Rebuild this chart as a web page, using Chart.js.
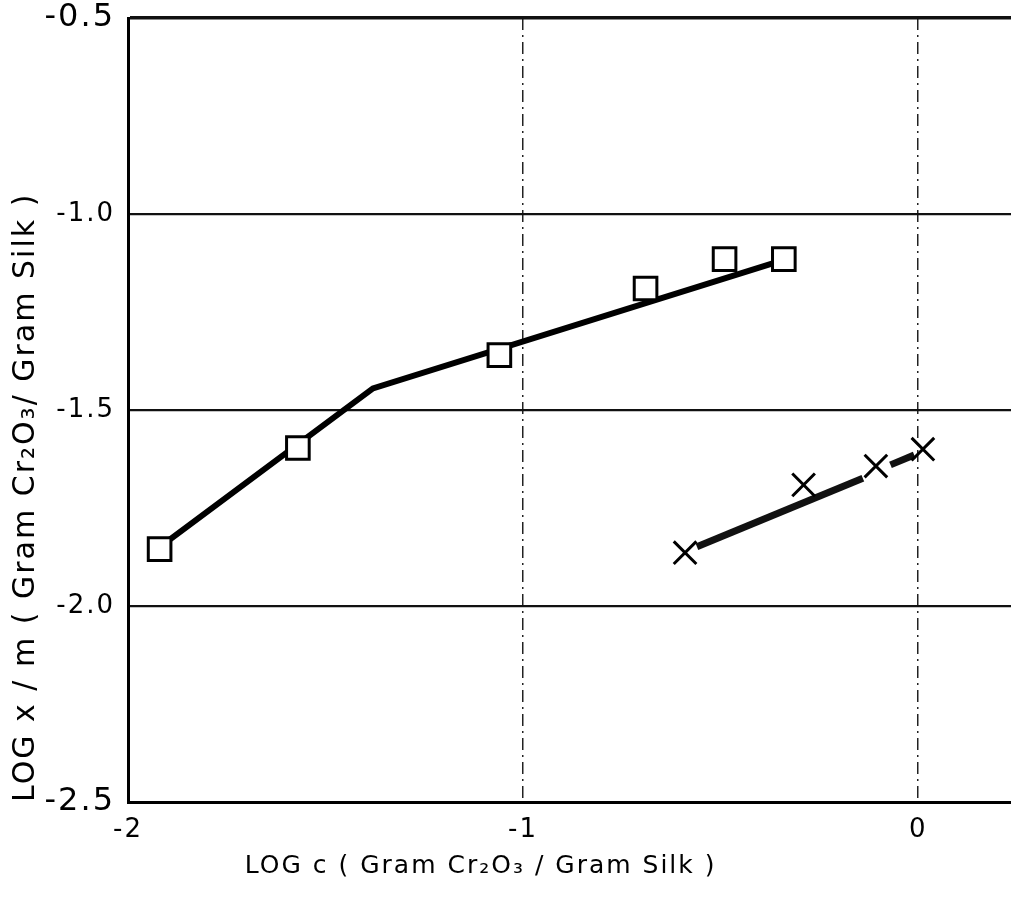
<!DOCTYPE html>
<html>
<head>
<meta charset="utf-8">
<script src="https://cdn.jsdelivr.net/npm/chart.js@4/dist/chart.umd.min.js"></script>
<style>
  html, body { margin: 0; padding: 0; background: #fff; }
  canvas { display: block; }
</style>
</head>
<body>
<canvas id="c" width="1011" height="898"></canvas>
<script>
// ---- data ----
const squareX = [-1.92, -1.57, -1.06, -0.69, -0.49, -0.34];
const squareY = [-1.855, -1.597, -1.360, -1.190, -1.115, -1.115];
const squareFitX = [-1.92, -1.38, -0.35];
const squareFitY = [-1.850, -1.445, -1.120];
const crossX = [-0.59, -0.29, -0.107, 0.012];
const crossY = [-1.864, -1.691, -1.643, -1.600];
const crossFit1X = [-0.56, -0.14];
const crossFit1Y = [-1.849, -1.674];
const crossFit2X = [-0.07, -0.01];
const crossFit2Y = [-1.640, -1.615];
const xTicks = [-2, -1, 0];
const xTickLabels = ['-2', '-1', '0'];
const yTicks = [-0.5, -1.0, -1.5, -2.0, -2.5];
const yTickLabels = ['-0.5', '-1.0', '-1.5', '-2.0', '-2.5'];
const xTitle = 'LOG c ( Gram Cr\u2082O\u2083 / Gram Silk )';
const yTitle = 'LOG x / m ( Gram Cr\u2082O\u2083/ Gram Silk )';

const pts = (xs, ys) => xs.map((x, i) => ({x: x, y: ys[i]}));
const FONT = '"DejaVu Sans", sans-serif';

const spacing = {
  id: 'spacing',
  beforeDraw(chart) { chart.ctx.letterSpacing = '2px'; }
};
const noPad = s => { s.paddingLeft = 0; s.paddingRight = 0; s.paddingTop = 0; s.paddingBottom = 0; };

new Chart(document.getElementById('c'), {
  type: 'scatter',
  data: {
    datasets: [
      { label: 'squares', data: pts(squareX, squareY), pointStyle: 'rect', pointRadius: 16,
        pointBorderWidth: 3, pointBorderColor: '#000', pointBackgroundColor: '#fff', showLine: false },
      { label: 'crosses', data: pts(crossX, crossY), pointStyle: 'crossRot', pointRadius: 16,
        pointBorderWidth: 3, pointBorderColor: '#000', showLine: false },
      { label: 'squareFit', data: pts(squareFitX, squareFitY), showLine: true, pointRadius: 0,
        borderColor: '#000', borderWidth: 6, tension: 0 },
      { label: 'crossFit1', data: pts(crossFit1X, crossFit1Y), showLine: true, pointRadius: 0,
        borderColor: '#111', borderWidth: 7, tension: 0 },
      { label: 'crossFit2', data: pts(crossFit2X, crossFit2Y), showLine: true, pointRadius: 0,
        borderColor: '#111', borderWidth: 7, tension: 0 }
    ]
  },
  options: {
    responsive: false,
    animation: false,
    layout: { autoPadding: false, padding: { top: 18, right: 0, bottom: 0, left: 0 } },
    plugins: {
      legend: { display: false },
      tooltip: { enabled: false },
      subtitle: { display: true, text: xTitle + '     ', position: 'bottom', color: '#000',
        font: { family: FONT, size: 25, weight: 'normal', lineHeight: 1.2 }, padding: { top: 0, bottom: 17 } }
    },
    scales: {
      x: {
        type: 'linear', min: -2, max: 0.235,
        afterBuildTicks: s => { s.ticks = xTicks.map(v => ({value: v})); },
        afterFit: s => { s.height = 49; noPad(s); },
        ticks: { color: '#000', padding: 13, font: { family: FONT, size: 26 },
          callback: (v) => xTickLabels[xTicks.indexOf(v)] },
        grid: { drawTicks: false, color: '#222',
          lineWidth: c => (c.tick && c.tick.value === -2) ? 0 : 1.5 },
        border: { display: true, color: '#000', width: 3, dash: [12, 5, 2, 5] }
      },
      y: {
        type: 'linear', min: -2.5, max: -0.5,
        afterBuildTicks: s => { s.ticks = yTicks.map(v => ({value: v})); },
        afterFit: s => { s.width = 128; noPad(s); },
        title: { display: true, text: yTitle, align: 'start', color: '#000',
          font: { family: FONT, size: 30, weight: 'normal', lineHeight: 1.2 }, padding: { top: 8, bottom: 0 } },
        ticks: { color: '#000', padding: 13,
          font: c => ({ family: FONT, size: (c.tick && (c.tick.value === -0.5 || c.tick.value === -2.5)) ? 32 : 26 }),
          callback: (v) => yTickLabels[yTicks.indexOf(v)] },
        grid: { drawTicks: false, color: '#111',
          lineWidth: c => { if (!c.tick) return 0; if (c.tick.value === -0.5) return 3.5; if (c.tick.value === -2.5) return 0; return 2.2; } },
        border: { display: true, color: '#000', width: 3 }
      }
    }
  },
  plugins: [spacing]
});
</script>
</body>
</html>
